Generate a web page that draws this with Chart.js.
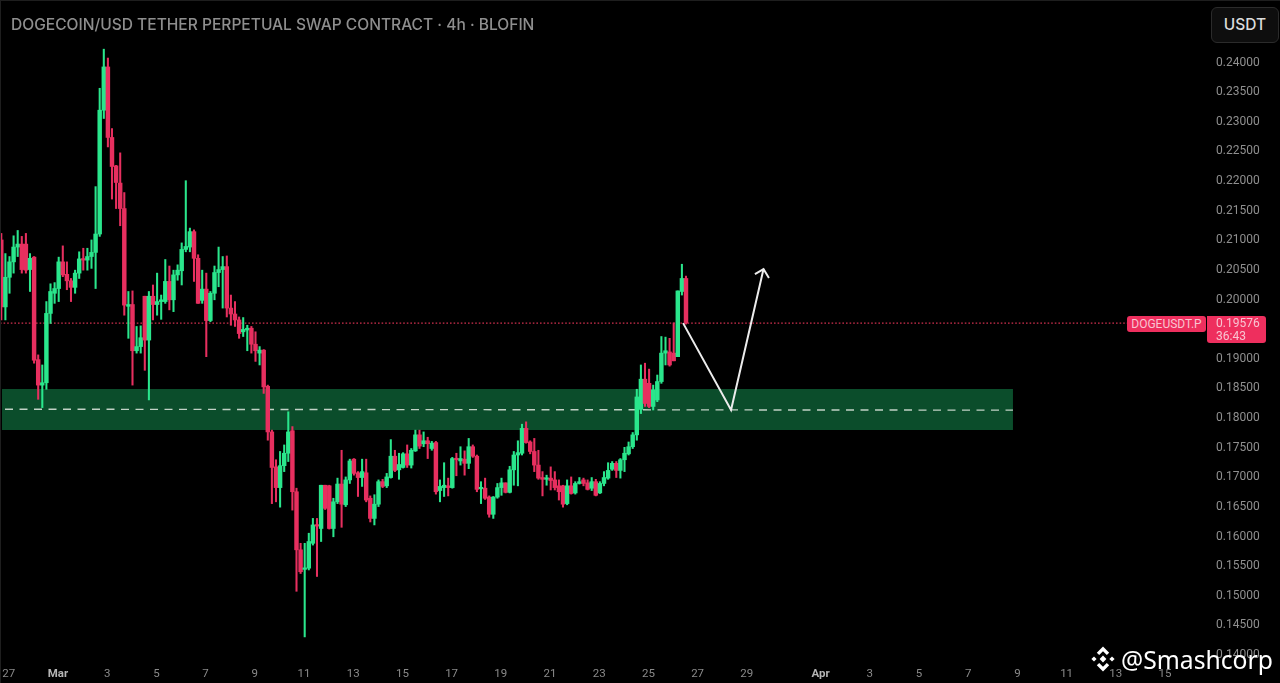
<!DOCTYPE html>
<html><head><meta charset="utf-8">
<style>
html,body{margin:0;padding:0;background:#000;width:1280px;height:683px;overflow:hidden}
#wrap{position:relative;width:1280px;height:683px;font-family:Roboto,sans-serif}
canvas{position:absolute;left:0;top:0;filter:blur(.35px)}
.o{position:absolute;white-space:nowrap}
#title{left:11px;top:15px;font:500 15.55px/20px Inter,sans-serif;color:#8e8e8e}
#unit{left:1211px;top:7px;width:66px;height:34px;border:1px solid #2b2b2b;border-radius:6px;background:#0e0e0e;color:#dcdcdc;font:500 15.5px/34px Inter,sans-serif;text-align:center}
#sym{left:1127px;top:316px;width:79px;height:16px;background:#ee2f5e;border-radius:3px;color:#f8c4d1;font:12px/16px Roboto,sans-serif;text-align:center}
#px{left:1207px;top:316px;width:59px;height:27px;background:#ee2f5e;border-radius:0 3px 3px 3px;color:#f8c4d1;font:12px/12.5px Roboto,sans-serif;padding-left:0}
#px span{display:block;margin-left:9px}
#px span:first-child{margin-top:1px}
#wm{left:1121px;top:641px;font:400 24.7px/38px "Noto Sans",sans-serif;color:#fff}
#logo{position:absolute;left:1089px;top:645px}
#edge{position:absolute;left:0;top:0;width:1280px;height:683px;box-shadow:inset 1px 1px 0 #1e1e1e;pointer-events:none}
</style></head><body>
<div id="wrap">
<canvas id="c" width="1280" height="683"></canvas>
<div id="edge"></div>
<div class="o" id="title">DOGECOIN/USD TETHER PERPETUAL SWAP CONTRACT · 4h · BLOFIN</div>
<div class="o" id="unit">USDT</div>
<div class="o" id="sym">DOGEUSDT.P</div>
<div class="o" id="px"><span>0.19576</span><span>36:43</span></div>
<svg id="logo" width="28" height="28" viewBox="0 0 28 28" fill="#fff">
<path d="M14 1.5l6.2 6.2-2.4 2.4L14 6.3l-3.8 3.8-2.4-2.4z"/>
<path d="M14 26.5l6.2-6.2-2.4-2.4-3.8 3.8-3.8-3.8-2.4 2.4z"/>
<path d="M5 11.4L7.6 14 5 16.6 2.4 14z"/>
<path d="M23 11.4L25.6 14 23 16.6 20.4 14z"/>
<path d="M14 10.6L17.4 14 14 17.4 10.6 14z"/>
</svg>
<div class="o" id="wm">@Smashcorp</div>
</div>
<script src="https://cdn.jsdelivr.net/npm/chart.js@4/dist/chart.umd.js"></script>
<script>
const candleOpen=[
.2098,.1985,.2035,.2061,.2086,.2091,.2091,.2048,.2069,.1896,
.1853,.1857,.1974,.2008,.2016,.2061,.2040,.2029,.2018,.2042,
.2066,.2064,.2070,.2077,.2108,.2317,.2390,.2271,.2223,.2194,
.2151,.1986,.1989,.1911,.1918,.2003,.1929,.2003,.1989,.1994,
.1994,.2028,.1997,.2039,.2046,.2082,.2086,.2112,.2067,.1996,
.2015,.1962,.2008,.2043,.2048,.2053,.1983,.1973,.1963,.1943,
.1946,.1949,.1922,.1907,.1912,.1851,.1774,.1715,.1680,.1717,
.1738,.1776,.1673,.1575,.1542,.1544,.1586,.1617,.1611,.1684,
.1683,.1611,.1656,.1686,.1651,.1693,.1728,.1705,.1697,.1705,
.1662,.1628,.1652,.1690,.1683,.1697,.1733,.1710,.1714,.1737,
.1718,.1742,.1769,.1754,.1759,.1746,.1756,.1675,.1680,.1683,
.1680,.1729,.1725,.1728,.1721,.1749,.1733,.1678,.1679,.1664,
.1635,.1664,.1680,.1688,.1672,.1710,.1735,.1738,.1780,.1757,
.1741,.1718,.1697,.1694,.1696,.1693,.1683,.1683,.1653,.1683,
.1671,.1687,.1693,.1688,.1679,.1690,.1671,.1687,.1696,.1711,
.1721,.1709,.1727,.1737,.1749,.1769,.1812,.1863,.1856,.1817,
.1828,.1859,.1907,.1909,.1907,.1901,.2011,.2033];
const candleClose=[
.1985,.2035,.2061,.2086,.2091,.2048,.2047,.2067,.1895,.1853,
.1857,.1974,.2011,.2016,.2061,.2039,.2029,.2018,.2042,.2066,
.2064,.2070,.2077,.2108,.2317,.2390,.2271,.2222,.2195,.2151,
.1988,.1989,.1911,.1918,.1933,.1929,.2003,.1989,.1994,.1997,
.2028,.1997,.2039,.2047,.2082,.2087,.2112,.2067,.1991,.2015,
.1962,.2008,.2043,.2048,.2053,.1983,.1973,.1963,.1940,.1947,
.1949,.1922,.1911,.1912,.1850,.1774,.1714,.1680,.1717,.1738,
.1774,.1673,.1575,.1538,.1544,.1589,.1617,.1615,.1684,.1645,
.1611,.1656,.1686,.1652,.1693,.1725,.1704,.1697,.1707,.1659,
.1628,.1652,.1690,.1682,.1698,.1733,.1709,.1719,.1737,.1718,
.1743,.1769,.1750,.1759,.1754,.1755,.1673,.1682,.1684,.1680,
.1729,.1727,.1729,.1721,.1749,.1733,.1677,.1680,.1662,.1635,
.1664,.1680,.1688,.1672,.1710,.1735,.1739,.1780,.1756,.1741,
.1718,.1696,.1694,.1696,.1692,.1680,.1673,.1652,.1683,.1670,
.1687,.1690,.1687,.1677,.1690,.1667,.1687,.1697,.1709,.1721,
.1709,.1727,.1738,.1749,.1769,.1833,.1863,.1822,.1817,.1845,
.1859,.1907,.1911,.1887,.1894,.2012,.2033,.19576];
const candleHigh=[
.2109,.2075,.2070,.2105,.2114,.2104,.2109,.2075,.2070,.1904,
.1887,.1994,.2024,.2026,.2069,.2088,.2061,.2033,.2047,.2078,
.2084,.2084,.2098,.2188,.2354,.2420,.2405,.2286,.2224,.2245,
.2178,.2011,.2012,.1952,.1953,.2003,.2011,.2022,.2042,.2005,
.2065,.2054,.2047,.2056,.2093,.2198,.2118,.2115,.2073,.2047,
.2042,.2011,.2054,.2086,.2070,.2071,.2005,.1994,.1968,.1967,
.1954,.1952,.1943,.1918,.1913,.1853,.1777,.1727,.1741,.1752,
.1808,.1783,.1679,.1586,.1586,.1603,.1628,.1628,.1684,.1684,
.1684,.1662,.1696,.1743,.1698,.1728,.1729,.1707,.1728,.1728,
.1666,.1668,.1693,.1694,.1704,.1761,.1743,.1738,.1739,.1752,
.1746,.1777,.1777,.1774,.1765,.1758,.1758,.1693,.1722,.1696,
.1731,.1738,.1749,.1742,.1763,.1752,.1735,.1690,.1696,.1666,
.1665,.1687,.1696,.1688,.1716,.1741,.1759,.1787,.1791,.1759,
.1763,.1743,.1707,.1701,.1715,.1707,.1693,.1684,.1693,.1698,
.1690,.1697,.1696,.1693,.1697,.1694,.1690,.1707,.1722,.1724,
.1724,.1729,.1748,.1757,.1773,.1846,.1887,.1890,.1880,.1853,
.1870,.1935,.1934,.1932,.1958,.2012,.2057,.2037];
const candleLow=[
.1963,.1963,.2008,.2042,.2070,.2042,.2042,.2011,.1890,.1829,
.1815,.1846,.1957,.1991,.1994,.2036,.2014,.1994,.2008,.2033,
.2047,.2047,.2050,.2016,.2104,.2303,.2255,.2167,.2151,.2122,
.1971,.1932,.1853,.1907,.1907,.1878,.1828,.1963,.1971,.1964,
.1991,.1980,.1977,.2030,.2022,.2078,.2078,.2028,.1991,.1991,
.1901,.1960,.1997,.2019,.1983,.1968,.1954,.1952,.1932,.1935,
.1911,.1907,.1893,.1887,.1839,.1760,.1653,.1656,.1647,.1707,
.1724,.1642,.1505,.1535,.1428,.1541,.1583,.1530,.1589,.1643,
.1610,.1597,.1653,.1613,.1648,.1687,.1701,.1665,.1682,.1656,
.1622,.1617,.1648,.1680,.1680,.1696,.1707,.1694,.1713,.1714,
.1713,.1741,.1746,.1749,.1729,.1743,.1669,.1656,.1665,.1666,
.1679,.1700,.1718,.1701,.1712,.1731,.1673,.1653,.1660,.1630,
.1628,.1662,.1667,.1671,.1671,.1684,.1683,.1735,.1755,.1737,
.1707,.1694,.1666,.1684,.1676,.1676,.1659,.1647,.1651,.1669,
.1669,.1686,.1683,.1676,.1675,.1666,.1670,.1683,.1694,.1709,
.1697,.1696,.1707,.1735,.1746,.1760,.1805,.1817,.1815,.1811,
.1825,.1856,.1887,.1885,.1894,.1901,.2005,.1956];
const candleStartDay=-2.305;
const yTickValues=[.24,.235,.23,.225,.22,.215,.21,.205,.2,.19,.185,.18,.175,.17,.165,.16,.155,.15,.145,.14];
const xTickDays=[-2,0,2,4,6,8,10,12,14,16,18,20,22,24,26,28,31,33,35,37,39,41,43,45];
const xTickLabels=["27","Mar","3","5","7","9","11","13","15","17","19","21","23","25","27","29","Apr","3","5","7","9","11","13","15"];
const zoneHigh=.18464, zoneLow=.17772, zoneDays=[-2.276,38.82];
const midDays=[-2.154,38.82], midPrices=[.18123,.18107];
const lastPrice=.19576, lastDays=[-2.358,43.46];
const pathDays=[25.41,27.36,28.68], pathPrices=[.19576,.1811,.20489];
const headDays=[28.33,28.68,28.90], headPrices=[.20405,.20489,.20338];

const UP='#2ae68c', DOWN='#e72f5f';
const dayOf=i=>candleStartDay+i/6;
const isUp=i=>candleClose[i]>=candleOpen[i];
const colors=candleOpen.map((_,i)=>isUp(i)?UP:DOWN);
const pts=(xs,ys)=>xs.map((x,i)=>({x,y:ys[i]}));
const flat=(xs,v)=>xs.map(x=>({x,y:v}));
const line=(o)=>Object.assign({type:'line',pointRadius:0,tension:0,borderCapStyle:'butt',spanGaps:true},o);
const noPad=a=>{a.paddingLeft=a.paddingRight=a.paddingTop=a.paddingBottom=0;};

new Chart(document.getElementById('c'),{
 type:'bar',
 data:{datasets:[
  line({data:flat(zoneDays,zoneHigh),order:6,borderWidth:0,borderColor:'transparent',backgroundColor:'#0b4d2b',fill:{value:zoneLow}}),
  line({data:pts(midDays,midPrices),order:5,borderWidth:1.4,borderColor:'#c2d2c6',borderDash:[8,6.5],fill:false}),
  line({data:flat(lastDays,lastPrice),order:4,borderWidth:1.4,borderColor:'#d0304f',borderDash:[1.6,2],fill:false}),
  {label:'wick',order:3,data:candleOpen.map((_,i)=>({x:dayOf(i),y:[candleLow[i],candleHigh[i]]})),backgroundColor:colors,barThickness:1.4,grouped:false,borderWidth:0},
  {label:'body',order:2,data:candleOpen.map((_,i)=>({x:dayOf(i),y:[Math.min(candleOpen[i],candleClose[i]),Math.max(candleOpen[i],candleClose[i])]})),backgroundColor:colors,barThickness:3.8,grouped:false,borderWidth:0,minBarLength:1.5},
  line({data:pts(pathDays,pathPrices),order:1,borderWidth:2,borderColor:'#ececec',fill:false}),
  line({data:pts(headDays,headPrices),order:0,borderWidth:2,borderColor:'#ececec',fill:false})
 ]},
 options:{
  responsive:false,animation:false,devicePixelRatio:1,
  layout:{padding:0},
  plugins:{legend:{display:false},tooltip:{enabled:false},title:{display:false}},
  scales:{
   x:{type:'linear',position:'bottom',offset:false,min:-2.3577,max:46.626,
    grid:{display:false,offset:false,drawTicks:false},border:{display:false},
    afterBuildTicks:a=>{a.ticks=xTickDays.map(v=>({value:v}));},
    afterFit:a=>{a.height=25;noPad(a);},
    ticks:{autoSkip:false,maxRotation:0,padding:9,
     callback:v=>xTickLabels[xTickDays.indexOf(v)],
     color:c=>(c.tick&&(c.tick.value===0||c.tick.value===31))?'#b5b5b5':'#8a8a8a',
     font:c=>({family:'Roboto',size:11.5,weight:(c.tick&&(c.tick.value===0||c.tick.value===31))?'700':'400'})}},
   y:{position:'right',min:.13924,max:.2503,
    grid:{display:false,drawTicks:false},border:{display:false},
    afterBuildTicks:a=>{a.ticks=yTickValues.map(v=>({value:v}));},
    afterFit:a=>{a.width=75;noPad(a);},
    ticks:{autoSkip:false,padding:11,labelOffset:1.5,color:'#8f8f8f',font:{family:'Roboto',size:12},
     callback:v=>Number(v).toFixed(5)}}
  }
 }
});
</script>
</body></html>
